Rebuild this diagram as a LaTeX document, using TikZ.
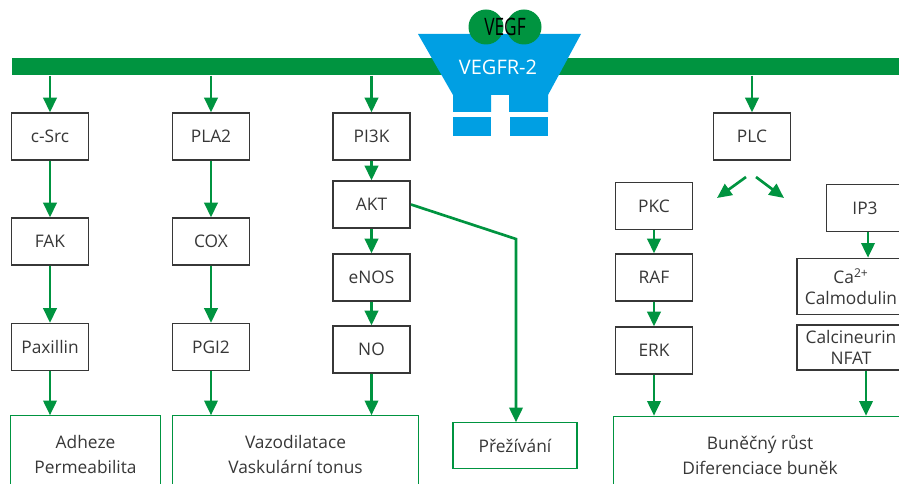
\documentclass[tikz,border=0pt]{standalone}
\usepackage{fontspec}
\setmainfont{Open Sans}
\usetikzlibrary{
    arrows.meta,
    positioning
}

\definecolor{vgreen}{RGB}{0,148,64}
\definecolor{vblue}{RGB}{0,159,227}
\definecolor{ink}{RGB}{55,55,55}

\tikzset{
    protein/.style={draw=ink, line width=1.2pt, minimum width=58pt, minimum height=35pt,
        inner sep=0pt, text=ink, align=center, font=\fontsize{13}{16}\selectfont},
    effect/.style={draw=vgreen, line width=0.9pt, inner sep=0pt, text=ink, align=center,
        font=\fontsize{13}{18.75}\selectfont},
    arr/.style={vgreen, line width=2pt, -{Triangle[length=11pt,width=10pt]}}
}

\begin{document}
\begin{tikzpicture}[x=0.75pt,y=-0.75pt]
    \useasboundingbox (0,0) rectangle (899,484);
    \clip (0,0) rectangle (899,484);

    % membrane and receptor
    \node[fill=vgreen, inner sep=0pt, minimum width=670pt, minimum height=12.75pt,
        anchor=north west] (membrane) at (12,58) {};
    \fill[vblue] (418,34) -- (581,34) -- (548,95) -- (548,112) -- (509,112) -- (509,95)
        -- (491,95) -- (491,112) -- (453,112) -- (453,95) -- cycle;
    \fill[vblue] (453,117) rectangle (491,136);
    \fill[vblue] (510,117) rectangle (548,136);
    \node[text=white, font=\fontsize{15}{18}\selectfont] (vegfr) at (498,67) {VEGFR-2};
    \node[circle, fill=vgreen, minimum size=26.25pt, inner sep=0pt] (vegfa) at (486,27) {};
    \node[circle, fill=vgreen, minimum size=26.25pt, inner sep=0pt] (vegfb) at (524,27) {};
    \node[text=black, font=\fontsize{18}{20}\selectfont] (vegf) at (505,27) {\scalebox{0.72}[1]{VEGF}};

    % signalling proteins
    \node[protein] (csrc)  at (50,136.5)  {c-Src};
    \node[protein] (fak)   at (50,241.5)  {FAK};
    \node[protein] (pax)   at (50,347)    {Paxillin};
    \node[protein] (pla)   at (211,136.5) {PLA2};
    \node[protein] (cox)   at (211,241.5) {COX};
    \node[protein] (pgi)   at (211,347)   {PGI2};
    \node[protein] (pik)   at (371.5,136.5) {PI3K};
    \node[protein] (akt)   at (371.5,204.5) {AKT};
    \node[protein] (enos)  at (371.5,277.5) {eNOS};
    \node[protein] (no)    at (371.5,349.5) {NO};
    \node[protein] (plc)   at (752,136.5) {PLC};
    \node[protein] (pkc)   at (654,206)   {PKC};
    \node[protein] (raf)   at (654,277.5) {RAF};
    \node[protein] (erk)   at (654,350.5) {ERK};
    \node[protein] (ipt)   at (865,208)   {IP3};
    \node[protein, minimum width=81pt, minimum height=42pt] (cam) at (851,286.5)
        {Ca\textsuperscript{2+}\\Calmodulin};
    \node[protein, minimum width=81pt, minimum height=34pt] (can) at (851,347.5)
        {Calcineurin\\NFAT};

    % cell responses
    \node[effect, minimum width=113pt, minimum height=58pt] (adh) at (85.5,454.5)
        {Adheze\\Permeabilita};
    \node[effect, minimum width=185pt, minimum height=58pt] (vaz) at (295.5,454.5)
        {Vazodilatace\\Vaskulární tonus};
    \node[effect, minimum width=93pt, minimum height=34pt] (pre) at (515,445.5)
        {Přežívání};
    \node[effect, minimum width=220pt, minimum height=58pt] (bun) at (760,455)
        {Buněčný růst\\Diferenciace buněk};

    % arrows
    \draw[arr] (membrane.south -| csrc) -- (csrc);
    \draw[arr] (membrane.south -| pla) -- (pla);
    \draw[arr] (membrane.south -| pik) -- (pik);
    \draw[arr] (membrane.south -| plc) -- (plc);
    \draw[arr] (csrc) -- (fak);
    \draw[arr] (fak) -- (pax);
    \draw[arr] (pax) -- (pax |- adh.north);
    \draw[arr] (pla) -- (cox);
    \draw[arr] (cox) -- (pgi);
    \draw[arr] (pgi) -- (pgi |- vaz.north);
    \draw[arr] (pik) -- (akt);
    \draw[arr] (akt) -- (enos);
    \draw[arr] (enos) -- (no);
    \draw[arr] (no) -- (no |- vaz.north);
    \coordinate (aktbend) at (516,239);
    \draw[arr] (akt.east) -- (aktbend) -- (aktbend |- pre.north);
    \coordinate (plcl) at (746,177);
    \coordinate (plcr) at (756,177);
    \draw[arr] (plcl) -- (717,198);
    \draw[arr] (plcr) -- (784,198);
    \draw[arr] (pkc) -- (raf);
    \draw[arr] (raf) -- (erk);
    \draw[arr] (erk) -- (erk |- bun.north);
    \draw[arr] (ipt.south -| 868,0) -- (cam.north -| 868,0);
    \draw[arr] (can.south -| 866,0) -- (bun.north -| 866,0);
\end{tikzpicture}
\end{document}
